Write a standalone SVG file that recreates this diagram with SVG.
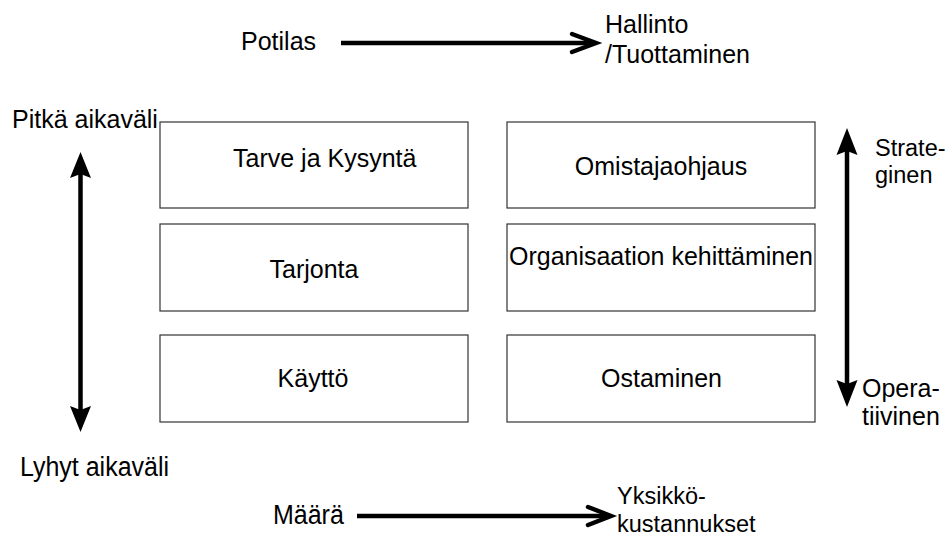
<svg xmlns="http://www.w3.org/2000/svg" width="952" height="539" viewBox="0 0 952 539">
  <style>
    text { font-family: "Liberation Sans", Arial, sans-serif; font-size: 25px; fill: #000; }
    .box rect { fill: #fff; stroke: #333; stroke-width: 1.2; }
    .shaft { stroke: #000; stroke-width: 4.5; fill: none; }
    .chev { stroke: #000; stroke-width: 4.5; fill: none; stroke-linejoin: miter; stroke-linecap: round; }
    .head { fill: #000; stroke: none; }
    .tall { transform-box: fill-box; transform-origin: 0 100%; transform: scaleY(1.08); }
    .tight { font-size: 23.5px; }
  </style>
  <rect width="952" height="539" fill="#fff"/>

  <!-- axis connectors -->
  <g id="connectors">
    <!-- Potilas -> Hallinto/Tuottaminen -->
    <line class="shaft" x1="341" y1="43" x2="594" y2="43"/>
    <path class="chev" d="M572,34 L596,43 L572,52"/>
    <!-- Määrä -> Yksikkökustannukset -->
    <line class="shaft" x1="357" y1="516" x2="609" y2="516"/>
    <path class="chev" d="M588,507 L611,516 L588,525"/>
    <!-- time span axis (left) -->
    <line class="shaft" x1="80.5" y1="172" x2="80.5" y2="412"/>
    <path class="head" d="M80.5,152 L91,178 L80.5,174 L70,178 Z"/>
    <path class="head" d="M80.5,432 L91,406 L80.5,410 L70,406 Z"/>
    <!-- strategic / operative axis (right) -->
    <line class="shaft" x1="847" y1="148" x2="847" y2="388"/>
    <path class="head" d="M847,128 L857.5,155 L847,151 L836.5,155 Z"/>
    <path class="head" d="M847,407 L857.5,380 L847,384 L836.5,380 Z"/>
  </g>

  <!-- left column -->
  <g id="tarve" class="box">
    <rect x="160" y="122" width="308" height="86"/>
    <text x="233" y="167">Tarve ja Kysyntä</text>
  </g>
  <g id="tarjonta" class="box">
    <rect x="160" y="224" width="308" height="87"/>
    <text x="314" y="278" text-anchor="middle">Tarjonta</text>
  </g>
  <g id="kaytto" class="box">
    <rect x="160" y="335" width="308" height="87"/>
    <text x="313" y="387" text-anchor="middle">Käyttö</text>
  </g>

  <!-- right column -->
  <g id="omistajaohjaus" class="box">
    <rect x="507" y="122" width="308" height="86"/>
    <text x="661" y="175" text-anchor="middle">Omistajaohjaus</text>
  </g>
  <g id="organisaatio" class="box">
    <rect x="507" y="224" width="308" height="87"/>
    <text x="661" y="265" text-anchor="middle" textLength="304" lengthAdjust="spacingAndGlyphs">Organisaation kehittäminen</text>
  </g>
  <g id="ostaminen" class="box">
    <rect x="507" y="335" width="308" height="87"/>
    <text x="661.5" y="387" text-anchor="middle">Ostaminen</text>
  </g>

  <!-- axis labels -->
  <g id="label-potilas"><text x="241" y="50">Potilas</text></g>
  <g id="label-hallinto">
    <text x="605" y="33">Hallinto</text>
    <text x="605" y="63">/Tuottaminen</text>
  </g>
  <g id="label-pitka"><text x="12" y="128">Pitkä aikaväli</text></g>
  <g id="label-lyhyt"><text class="tall" x="20" y="476">Lyhyt aikaväli</text></g>
  <g id="label-strateginen">
    <text class="tight" x="875" y="156">Strate-</text>
    <text class="tight" x="875" y="183">ginen</text>
  </g>
  <g id="label-operatiivinen">
    <text x="862" y="397">Opera-</text>
    <text x="862" y="425">tiivinen</text>
  </g>
  <g id="label-maara"><text class="tall" x="273" y="524">Määrä</text></g>
  <g id="label-yksikko">
    <text class="tight" x="617" y="504">Yksikkö-</text>
    <text class="tight" x="617" y="532">kustannukset</text>
  </g>
</svg>
